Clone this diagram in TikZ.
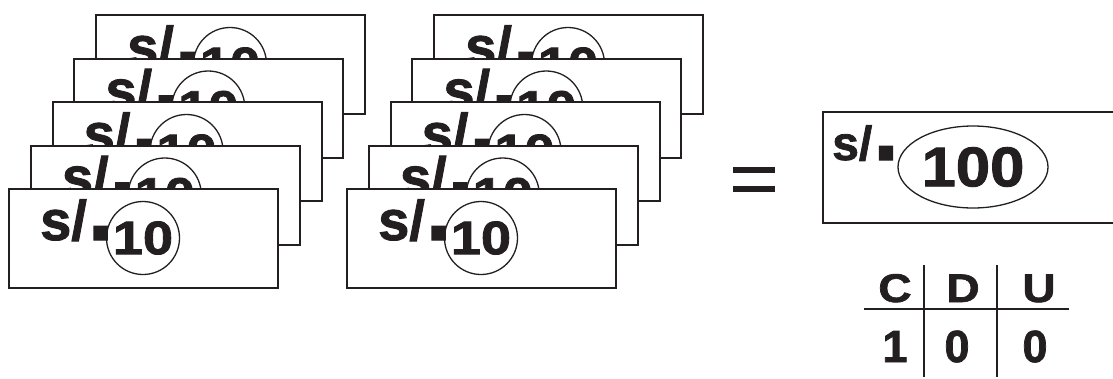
\documentclass[tikz,border=0pt]{standalone}
\usepackage{fontspec}
\setmainfont{Liberation Sans}
\newfontfamily\heavy{Liberation Sans Bold}[FakeBold=1.6]
\usetikzlibrary{calc,shapes.geometric}
\definecolor{ink}{RGB}{35,31,32}
\tikzset{
  billbox/.style={draw=ink, line width=2pt, fill=white, rectangle, minimum width=269pt,
    minimum height=99pt, anchor=north west, inner sep=0pt, outer sep=0pt},
  stxt/.style={text=ink, font=\fontsize{56}{56}\selectfont\heavy, inner sep=0pt, anchor=base west},
  coin/.style={draw=ink, line width=1.3pt, circle, minimum size=73pt, inner sep=0pt,
    text=ink, font=\fontsize{47}{47}\selectfont\heavy},
  bigcoin/.style={draw=ink, line width=1.3pt, ellipse, minimum width=150pt, minimum height=82pt,
    inner sep=0pt, text=ink, font=\fontsize{56}{56}\selectfont\heavy},
  head/.style={text=ink, font=\fontsize{40}{40}\selectfont\heavy, inner sep=0pt, anchor=base},
  digit/.style={text=ink, font=\fontsize{45}{45}\selectfont\heavy, inner sep=0pt, anchor=base},
  rule/.style={draw=ink, line width=1.8pt}
}
\newcommand\billat[3]{%
  \node[billbox] (#3) at (#1,#2) {};
  \node[stxt] (#3s) at ($(#3.north west)+(31,51)$) {s/\kern1pt{\fontsize{92}{92}\selectfont.}};
  \node[coin] (#3c) at ($(#3.north west)+(134,49)$) {\scalebox{1.15}[1]{10}};
}
\begin{document}
\begin{tikzpicture}[x=1pt,y=-1pt]
\useasboundingbox (0,0) rectangle (1113,378);
\clip (0,0) rectangle (1113,378);
\foreach \k in {4,3,2,1,0} {
  \billat{9+21.75*\k}{189-43.5*\k}{L\k}
}
\foreach \k in {4,3,2,1,0} {
  \billat{347+21.75*\k}{189-43.5*\k}{R\k}
}
% equals
\fill[ink] (733,167) rectangle (775,173);
\fill[ink] (733,186) rectangle (775,192);
% big bill
\node[draw=ink, line width=2pt, minimum width=310pt, minimum height=111pt, anchor=north west,
  inner sep=0pt, outer sep=0pt] (big) at (823,112) {};
\node[stxt, font=\fontsize{48}{48}\selectfont\heavy] (bigs) at (832,160) {s/\kern1pt{\fontsize{92}{92}\selectfont.}};
\node[bigcoin] (bigc) at (973,167) {\scalebox{1.1}[1]{100}};
% table
\coordinate (hl) at (864,309);
\coordinate (hr) at (1069,309);
\coordinate (v1t) at (924,265);
\coordinate (v1b) at (924,377);
\coordinate (v2t) at (997,265);
\coordinate (v2b) at (997,377);
\draw[rule] (hl) -- (hr);
\draw[rule] (v1t) -- (v1b);
\draw[rule] (v2t) -- (v2b);
\node[head] (hc) at (895,302) {\scalebox{1.15}[1]{C}};
\node[head] (hd) at (963,302) {\scalebox{1.15}[1]{D}};
\node[head] (hu) at (1039,302) {\scalebox{1.15}[1]{U}};
\node[digit] (n1) at (895,362) {1};
\node[digit] (n2) at (957,362) {0};
\node[digit] (n3) at (1035,362) {0};
\end{tikzpicture}
\end{document}
